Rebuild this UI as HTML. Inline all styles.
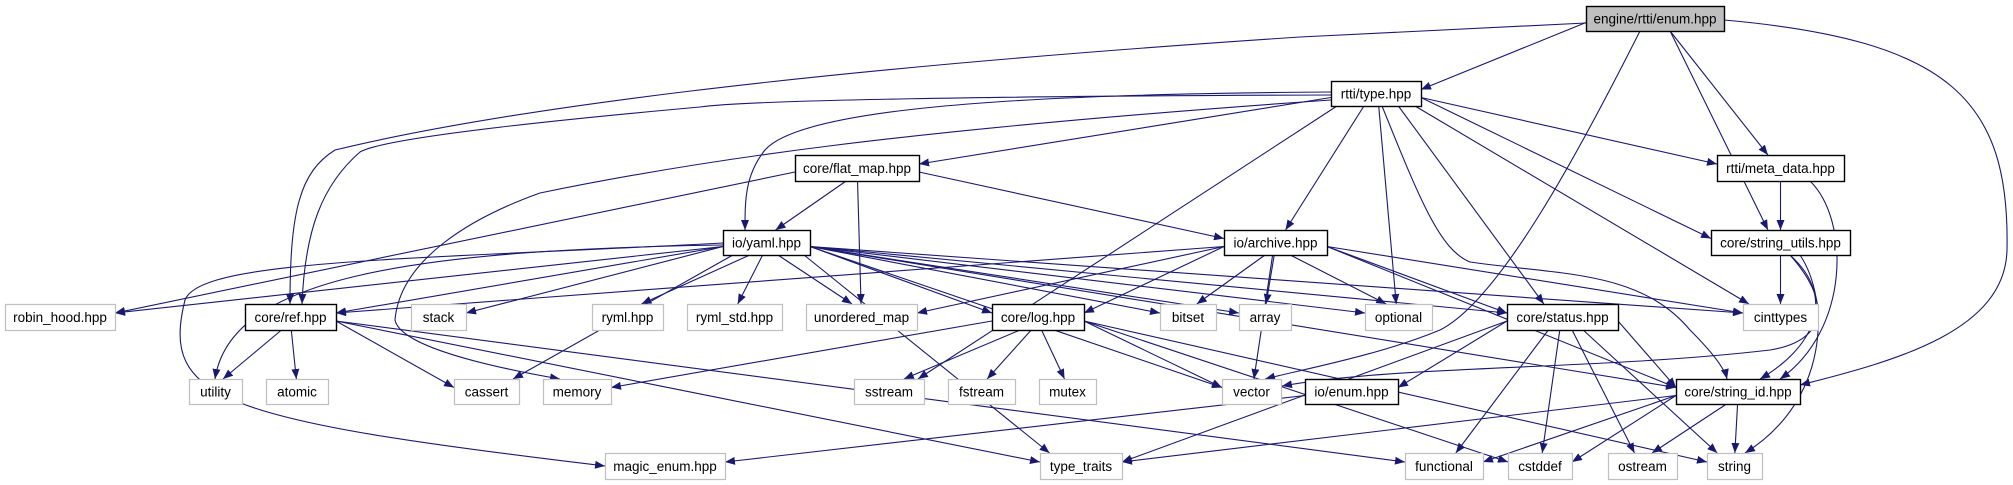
<!DOCTYPE html>
<html><head><meta charset="utf-8">
<style>
html,body{margin:0;padding:0;background:#fff;width:2013px;height:485px;overflow:hidden}
svg{display:block}
text{font-family:"Liberation Sans",Arial,sans-serif;font-size:13.5px;fill:#000}
</style></head>
<body>
<svg id="g" width="2013" height="485" xmlns="http://www.w3.org/2000/svg">
<defs>
<marker id="ah" markerWidth="11" markerHeight="8" refX="10" refY="4" orient="auto" markerUnits="userSpaceOnUse">
<path d="M0,0 L10,4 L0,8 Z" fill="#191970"/>
</marker>
</defs>
<g id="edges" fill="none" stroke="#191970" stroke-width="1.1"></g>
<g id="nodes"></g>
</svg>
<script>
var N={
engine:[1586,6,1724,31,"engine/rtti/enum.hpp",2],
type:[1331,81,1421,106,"rtti/type.hpp",1],
flat:[795,155,919,181,"core/flat_map.hpp",1],
meta:[1717,155,1844,181,"rtti/meta_data.hpp",1],
yaml:[723,230,810,255,"io/yaml.hpp",1],
archive:[1224,230,1327,255,"io/archive.hpp",1],
sutil:[1711,230,1850,255,"core/string_utils.hpp",1],
robin:[5,304,115,330,"robin_hood.hpp",0],
ref:[245,304,336,330,"core/ref.hpp",1],
stack:[411,304,466,330,"stack",0],
ryml:[592,304,663,330,"ryml.hpp",0],
rymlstd:[687,304,782,330,"ryml_std.hpp",0],
umap:[806,304,917,330,"unordered_map",0],
log:[992,304,1084,330,"core/log.hpp",1],
bitset:[1160,304,1216,330,"bitset",0],
array:[1239,304,1291,330,"array",0],
optional:[1365,304,1432,330,"optional",0],
status:[1507,304,1618,330,"core/status.hpp",1],
cint:[1743,304,1818,330,"cinttypes",0],
utility:[189,379,242,404,"utility",0],
atomic:[266,379,328,404,"atomic",0],
cassert:[454,379,519,404,"cassert",0],
memory:[543,379,611,404,"memory",0],
sstream:[854,379,924,404,"sstream",0],
fstream:[948,379,1015,404,"fstream",0],
mutex:[1039,379,1096,404,"mutex",0],
vector:[1222,379,1281,404,"vector",0],
ioenum:[1305,379,1398,404,"io/enum.hpp",1],
sid:[1676,379,1800,404,"core/string_id.hpp",1],
magic:[605,453,725,479,"magic_enum.hpp",0],
traits:[1040,453,1122,479,"type_traits",0],
func:[1405,453,1483,479,"functional",0],
cstddef:[1508,453,1572,479,"cstddef",0],
ostream:[1608,453,1677,479,"ostream",0],
string:[1707,453,1762,479,"string",0]
};
var custom={
"engine>ref":"M1586,23 L1300,37 C800,70 500,110 335,150 C300,172 290,210 290,304",
"type>ref":"M1331,95 C1000,96 750,100 700,107 C500,125 380,140 360,152 C322,185 305,230 302,304",
"type>memory":"M1331,100 C900,130 700,160 540,193 C470,218 400,260 395,320 C400,345 480,365 560,379",
"engine>sid":"M1724,20 C1950,40 2010,100 2007,250 C2005,330 1900,360 1800,385",
"engine>vector":"M1640,31 C1580,150 1500,300 1440,330 C1380,355 1300,370 1265,379",
"yaml>magic":"M723,243 C400,260 200,260 185,300 C160,400 220,420 605,466",
"yaml>utility":"M723,245 C400,250 230,280 215,379",
"sutil>vector":"M1790,255 C1830,300 1830,340 1770,350 C1600,370 1400,365 1282,386",
"type>sid":"M1382,106 C1420,200 1440,250 1470,262 C1560,275 1640,270 1690,330 C1715,355 1725,370 1727,379",
"type>yaml":"M1331,92 C1000,94 800,110 765,150 C745,175 745,200 745,230",
"sutil>sid":"M1790,255 C1840,300 1810,350 1760,379",
"sutil>string":"M1800,255 C1830,300 1830,400 1745,453",
"meta>sid":"M1810,181 C1850,220 1850,330 1780,379"
};
var E={
engine:["type","ref","vector","sutil","meta","sid"],
type:["ref","yaml","memory","flat","sstream","archive","optional","status","cint","sutil","meta","sid"],
flat:["robin","yaml","umap","archive"],
yaml:["robin","ref","utility","magic","stack","cassert","traits","ryml","rymlstd","umap","log","vector","bitset","array","optional","status","sid","cint"],
archive:["ref","umap","log","bitset","array","vector","optional","status","sid","cint"],
ref:["utility","atomic","cassert","traits","func"],
log:["memory","sstream","fstream","mutex","vector","cstddef","string"],
status:["ioenum","traits","func","cstddef","ostream","string","sid"],
sutil:["cint","sid","string","vector"],
meta:["sutil","sid"],
ioenum:["magic"],
sid:["traits","func","cstddef","ostream","string"]
};
function cl(v,a,b){return Math.max(a,Math.min(b,v));}
var eg=document.getElementById("edges"),ng=document.getElementById("nodes"),ns="http://www.w3.org/2000/svg";
for(var s in E){E[s].forEach(function(t){
 var d=custom[s+">"+t];
 if(!d){
  var a=N[s],b=N[t];
  var acx=(a[0]+a[2])/2,bcx=(b[0]+b[2])/2,dy=b[1]-a[3];
  var sx=cl(acx+(bcx-acx)*0.12,a[0]+6,a[2]-6),sy=a[3];
  var tx,ty;
  if(Math.abs(bcx-acx)>3.2*Math.max(dy,1)){
   if(bcx>acx){tx=b[0];}else{tx=b[2];}
   ty=(b[1]+b[3])/2-4;
   sy=(a[1]+a[3])/2+4; sx=bcx>acx?a[2]:a[0];
  }else{tx=cl(bcx+(acx-bcx)*0.1,b[0]+6,b[2]-6);ty=b[1];}
  d="M"+sx+","+sy+" L"+tx+","+ty;
 }
 var p=document.createElementNS(ns,"path");p.setAttribute("d",d);p.setAttribute("marker-end","url(#ah)");eg.appendChild(p);
});}
for(var k in N){var n=N[k];
 var r=document.createElementNS(ns,"rect");
 r.setAttribute("x",n[0]+0.5);r.setAttribute("y",n[1]+0.5);r.setAttribute("width",n[2]-n[0]);r.setAttribute("height",n[3]-n[1]);
 r.setAttribute("fill",n[5]==2?"#bfbfbf":"#fff");r.setAttribute("stroke",n[5]==0?"#bfbfbf":"#000");r.setAttribute("stroke-width",n[5]==0?"1.2":"1.4");
 ng.appendChild(r);
 var t=document.createElementNS(ns,"text");t.setAttribute("x",(n[0]+n[2])/2);t.setAttribute("y",(n[1]+n[3])/2+5);t.setAttribute("text-anchor","middle");t.textContent=n[4];ng.appendChild(t);
}
</script>
</body></html>
